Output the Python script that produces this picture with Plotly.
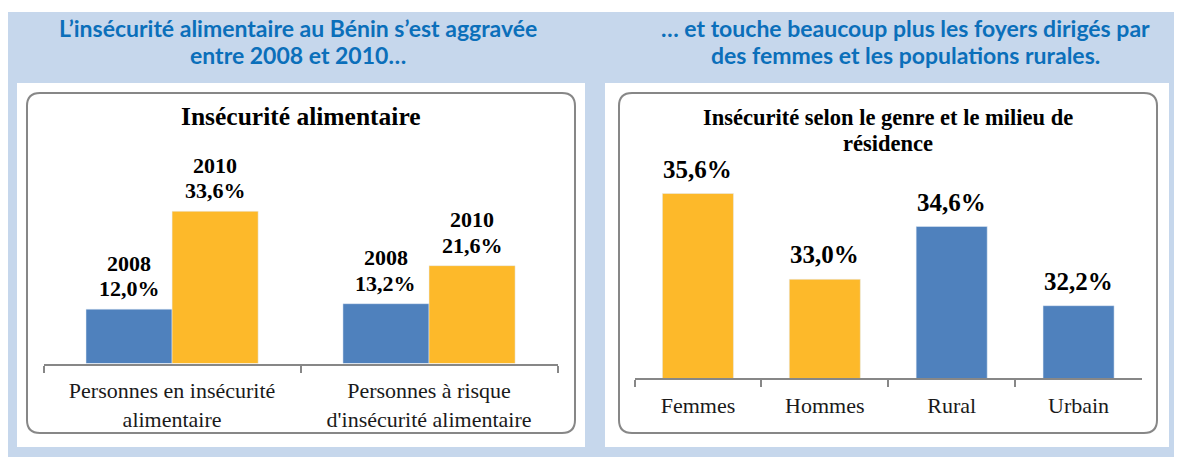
import plotly.graph_objects as go

# The page body has an 8 px margin; the figure is drawn from (8, 8) of the window.
OX, OY = 8, 8
W, H = 1182 - OX, 457 - OY

# ---------------- data ----------------
groups = ["Personnes en insécurité<br>alimentaire", "Personnes à risque<br>d'insécurité alimentaire"]
years = ["2008", "2010"]
val_2008 = [12.0, 13.2]
val_2010 = [33.6, 21.6]

cats2 = ["Femmes", "Hommes", "Rural", "Urbain"]
vals2 = [35.6, 33.0, 34.6, 32.2]

title_left = ["L’insécurité alimentaire au Bénin s’est aggravée", "entre 2008 et 2010…"]
title_right = ["… et touche beaucoup plus les foyers dirigés par", "des femmes et les populations rurales."]
chart_title_left = "Insécurité alimentaire"
chart_title_right = ["Insécurité selon le genre et le milieu de", "résidence"]

BLUE = "#4F81BD"
GOLD = "#FDB92A"
BG = "#C6D7EC"
TITLE_BLUE = "#0B6FBA"
GRAY = "#878787"
SERIF = "Liberation Serif"


def fmt(v):
    return f"{v:.1f}".replace(".", ",") + "%"


def px(x):
    return (x - OX) / W


def py(y):
    return 1 - (y - OY) / H


fig = go.Figure()

# left chart: grouped bars
fig.add_trace(go.Bar(x=groups, y=val_2008, name=years[0], marker_color=BLUE,
                     xaxis="x", yaxis="y", hoverinfo="skip"))
fig.add_trace(go.Bar(x=groups, y=val_2010, name=years[1], marker_color=GOLD,
                     xaxis="x", yaxis="y", hoverinfo="skip"))

# right chart
colors2 = [GOLD, GOLD, BLUE, BLUE]
fig.add_trace(go.Bar(x=cats2, y=vals2, marker_color=colors2, xaxis="x2", yaxis="y2",
                     hoverinfo="skip", showlegend=False, width=0.56))

annotations = []
# left bar labels
half = 0.67 / 4
for i in range(len(groups)):
    for j, (vals, yr) in enumerate([(val_2008, years[0]), (val_2010, years[1])]):
        xpos = i - half if j == 0 else i + half
        annotations.append(dict(x=xpos, y=vals[i], xref="x", yref="y", text=f"<b>{fmt(vals[i])}</b>",
                                showarrow=False, yanchor="bottom", yshift=6,
                                font=dict(family=SERIF, size=22, color="#000")))
        annotations.append(dict(x=xpos, y=vals[i], xref="x", yref="y", text=f"<b>{yr}</b>",
                                showarrow=False, yanchor="bottom", yshift=31.5,
                                font=dict(family=SERIF, size=22, color="#000")))
# right bar labels
for c, v in zip(cats2, vals2):
    annotations.append(dict(x=c, y=v, xref="x2", yref="y2", text=f"<b>{fmt(v)}</b>",
                            showarrow=False, yanchor="bottom", yshift=9,
                            font=dict(family=SERIF, size=25, color="#000")))

# chart titles
annotations.append(dict(x=px(301), y=py(133), xref="paper", yref="paper", text=f"<b>{chart_title_left}</b>",
                        showarrow=False, xanchor="center", yanchor="bottom",
                        font=dict(family=SERIF, size=25.5, color="#000")))
for line, base in zip(chart_title_right, [126, 151.7]):
    annotations.append(dict(x=px(888), y=py(base + 6), xref="paper", yref="paper", text=f"<b>{line}</b>",
                            showarrow=False, xanchor="center", yanchor="bottom",
                            font=dict(family=SERIF, size=22.5, color="#000")))

# top headings
for lines, cx in [(title_left, 298), (title_right, 905)]:
    for line, base in zip(lines, [38.3, 65]):
        annotations.append(dict(x=px(cx), y=py(base + 6), xref="paper", yref="paper", text=f"<b>{line}</b>",
                                showarrow=False, xanchor="center", yanchor="bottom",
                                font=dict(family="Lato", size=23, color=TITLE_BLUE)))


def rrect(x0, y0, x1, y1, r):
    def P(x, y):
        return f"{px(x):.5f},{py(y):.5f}"
    return (f"M {P(x0 + r, y0)} L {P(x1 - r, y0)} Q {P(x1, y0)} {P(x1, y0 + r)} "
            f"L {P(x1, y1 - r)} Q {P(x1, y1)} {P(x1 - r, y1)} L {P(x0 + r, y1)} "
            f"Q {P(x0, y1)} {P(x0, y1 - r)} L {P(x0, y0 + r)} Q {P(x0, y0)} {P(x0 + r, y0)} Z")


shapes = [
    dict(type="rect", xref="paper", yref="paper", x0=px(8), x1=px(1182), y0=py(457), y1=py(12),
         fillcolor=BG, line_width=0, layer="below"),
    dict(type="rect", xref="paper", yref="paper", x0=px(17), x1=px(585), y0=py(447), y1=py(83),
         fillcolor="white", line_width=0, layer="below"),
    dict(type="rect", xref="paper", yref="paper", x0=px(605), x1=px(1169), y0=py(447), y1=py(83),
         fillcolor="white", line_width=0, layer="below"),
    dict(type="path", xref="paper", yref="paper", path=rrect(27, 93, 575, 433, 13),
         line=dict(color=GRAY, width=2), layer="below"),
    dict(type="path", xref="paper", yref="paper", path=rrect(619, 93, 1157, 433, 13),
         line=dict(color=GRAY, width=2), layer="below"),
]

L_BASE, L_TOP, L_SCALE = 363.5, 140, 4.53
R_BASE, R_TOP, R_SCALE = 378.3, 140, 33.0

axis_common = dict(showline=True, linecolor=GRAY, linewidth=2, ticks="outside", ticklen=7,
                   tickcolor=GRAY, tickwidth=2, tickson="boundaries", showgrid=False,
                   zeroline=False, fixedrange=True, ticklabelstandoff=6,
                   tickfont=dict(family=SERIF, size=22, color="#1a1a1a"))

fig.update_layout(
    width=W, height=H,
    margin=dict(l=0, r=0, t=0, b=0),
    paper_bgcolor="white", plot_bgcolor="rgba(0,0,0,0)",
    showlegend=False,
    barmode="group", bargap=0.33, bargroupgap=0,
    xaxis=dict(domain=[px(43.6), px(557.5)], anchor="y", type="category", **axis_common),
    yaxis=dict(domain=[py(L_BASE), py(L_TOP)], range=[0, (L_BASE - L_TOP) / L_SCALE], visible=False,
               fixedrange=True),
    xaxis2=dict(domain=[px(634.5), px(1142)], anchor="y2", type="category", **axis_common),
    yaxis2=dict(domain=[py(R_BASE), py(R_TOP)], range=[30, 30 + (R_BASE - R_TOP) / R_SCALE], visible=False,
                fixedrange=True),
    annotations=annotations,
    shapes=shapes,
)

fig.write_html("out.html")
